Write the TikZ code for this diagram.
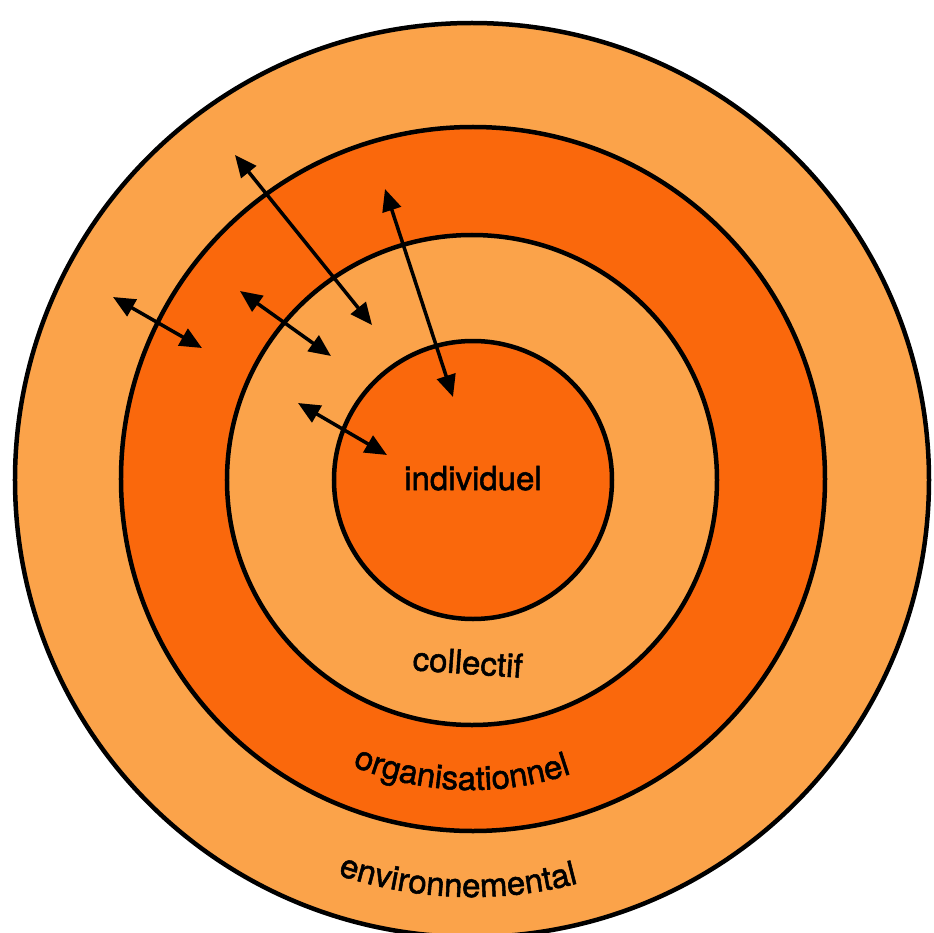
\documentclass[tikz,border=0pt]{standalone}
\usepackage{fontspec}
\setmainfont{TeX Gyre Heros}[FakeBold=1.6]
\usetikzlibrary{arrows.meta,decorations.text}
\definecolor{ringlight}{RGB}{251,163,74}
\definecolor{ringdark}{RGB}{250,104,12}
\newcommand{\lvlfont}{\fontsize{33}{33}\selectfont}
\tikzset{
  ring/.style={circle, draw=black, line width=4.5pt, inner sep=0pt},
  lvl/.style={font=\lvlfont, text=black, inner sep=0pt},
  arcname/.style={decorate, decoration={text along path, text align=center,
                  text={|\lvlfont|#1}}},
  dbl/.style={{Triangle[length=22pt,width=19pt]}-{Triangle[length=22pt,width=19pt]},
              line width=3.5pt}}

\begin{document}
\begin{tikzpicture}[x=1pt,y=1pt]
  \useasboundingbox[fill=white] (-472,-452) rectangle (462,480);
  % the four levels
  \node[ring, fill=ringlight, minimum size=914pt] (env)   at (0,0) {};
  \node[ring, fill=ringdark,  minimum size=704pt] (orga)  at (1,1) {};
  \node[ring, fill=ringlight, minimum size=490pt] (coll)  at (0,0) {};
  \node[ring, fill=ringdark,  minimum size=278pt] (indiv) at (1,0) {};

  \node[lvl, anchor=base] (tindiv) at (1,-10) {individuel};
  \node[lvl, anchor=base, rotate=-4] (tcoll) at (-5,-194) {collectif};
  \path[arcname=organisationnel] (228:310pt) arc[start angle=228, end angle=308, radius=310pt];
  \path[arcname=environnemental] (230:417pt) arc[start angle=230, end angle=306, radius=417pt];

  % exchanges between levels
  \coordinate (a1) at (-237,325); \coordinate (a2) at (-100,155);
  \coordinate (b1) at (-87,291);  \coordinate (b2) at (-19,83);
  \coordinate (c1) at (-359,183); \coordinate (c2) at (-270,132);
  \coordinate (d1) at (-232,189); \coordinate (d2) at (-141,124);
  \coordinate (e1) at (-174,77);  \coordinate (e2) at (-85,25);
  \foreach \p in {a,b,c,d,e}
    \draw[dbl] (\p1) -- (\p2);
\end{tikzpicture}
\end{document}
